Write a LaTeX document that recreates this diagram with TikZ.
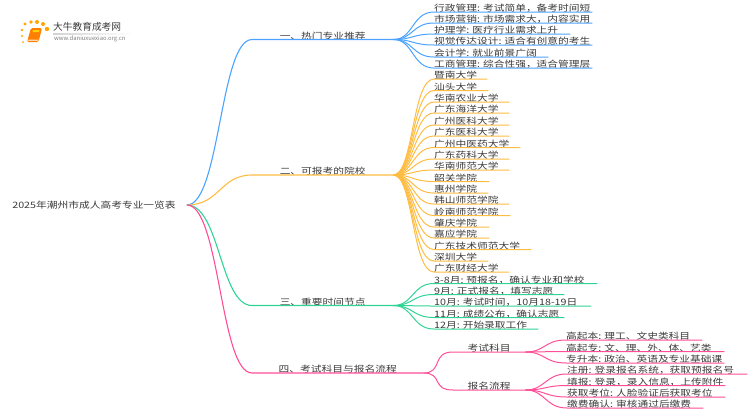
\documentclass[tikz,border=0pt]{standalone}
\usepackage{fontspec}
\setmainfont[FakeStretch=1.22]{Noto Sans CJK SC}
\newfontfamily\logofont{Noto Sans CJK SC}
\usetikzlibrary{positioning}
\definecolor{lblue}{HTML}{4BA3FF}
\definecolor{lorange}{HTML}{FFBC42}
\definecolor{lgreen}{HTML}{2FD495}
\definecolor{lpink}{HTML}{FF4E97}
\definecolor{ltext}{HTML}{3A3A3A}
\tikzset{
  arm/.style={inner xsep=0pt, inner ysep=0pt, anchor=south west, text=ltext, font=\fontsize{8.8}{11}\selectfont, text height=7pt, text depth=0pt},
  leaf/.style={arm, text width=#1, align=left},
  trunk/.style={line width=1.1pt, to path={.. controls +(33,0) and +(-32,0) .. (\tikztotarget)}},
  twig/.style={line width=1pt, to path={.. controls +(20,0) and +(-22,0) .. (\tikztotarget)}},
}
\begin{document}
\begin{tikzpicture}[x=1pt, y=-1pt]
\useasboundingbox (0,0) rectangle (750,410);
% logo
\fill[orange!70!yellow] (23,42) circle (1pt);
\fill[orange!70!yellow] (22,36) circle (1.2pt);
\fill[orange!70!yellow] (22,30) circle (1.4pt);
\fill[orange!70!yellow] (25,24) circle (1.6pt);
\fill[orange!70!yellow] (31,22) circle (1.9pt);
\fill[orange!70!yellow] (37,22) circle (2pt);
\fill[orange!70!yellow] (43,24) circle (2pt);
\fill[orange!70!yellow] (47,29) circle (2.2pt);
\fill[orange, rounded corners=1.5pt] (31,28) -- (42,28) -- (38.5,42) -- (27,42) -- cycle;
\fill[yellow!70!orange] (33,30) -- (39.5,30) -- (39,32) -- (32.5,32) -- cycle;
\fill[orange!30] (28.5,39.5) -- (38.5,39.5) -- (38.2,40.8) -- (28.2,40.8) -- cycle;
\fill[left color=gray!35, right color=white] (53,33) rectangle (133,34);
\node[inner sep=0pt, anchor=west, text=ltext, font=\logofont\fontsize{9.7}{11}\selectfont] (brand) at (53,27) {大牛教育成考网};
\node[inner sep=0pt, anchor=west, text=gray, font=\logofont\fontsize{5.9}{7}\selectfont] (site) at (54,38.5) {www.daniuxuexiao.org.cn};
% root and main branches
\node[arm, anchor=center, inner xsep=11pt] (root) at (94,205) {2025年潮州市成人高考专业一览表};
\node[arm, minimum width=141pt] (one) at (252,39.5) {一、热门专业推荐};
\node[arm, minimum width=141pt] (two) at (252,175) {二、可报考的院校};
\node[arm, minimum width=141pt] (three) at (252,305.5) {三、重要时间节点};
\node[arm, minimum width=171pt] (four) at (252,373) {四、考试科目与报名流程};
\node[arm, minimum width=72pt] (exam) at (453,352) {考试科目};
\node[arm, minimum width=72pt] (apply) at (453,390) {报名流程};
\draw[lblue, trunk] (root.east) to (one.south west) -- (one.south east);
\draw[lorange, trunk] (root.east) to (two.south west) -- (two.south east);
\draw[lgreen, trunk] (root.east) to (three.south west) -- (three.south east);
\draw[lpink, trunk] (root.east) to (four.south west) -- (four.south east);
\draw[lpink, twig] (four.south east) to (exam.south west) -- (exam.south east);
\draw[lpink, twig] (four.south east) to (apply.south west) -- (apply.south east);
% first group
\node[leaf=158pt] (o1) at (434,12) {行政管理:~考试简单，备考时间短};
\node[leaf=158pt] (o2) at (434,23) {市场营销:~市场需求大，内容实用};
\node[leaf=136pt] (o3) at (434,34) {护理学:~医疗行业需求上升};
\node[leaf=158pt] (o4) at (434,45) {视觉传达设计:~适合有创意的考生};
\node[leaf=114pt] (o5) at (434,57) {会计学:~就业前景广阔};
\node[leaf=158pt] (o6) at (434,68) {工商管理:~综合性强，适合管理层};
\draw[lblue, twig] (one.south east) to (o1.south west) -- (o1.south east);
\draw[lblue, twig] (one.south east) to (o2.south west) -- (o2.south east);
\draw[lblue, twig] (one.south east) to (o3.south west) -- (o3.south east);
\draw[lblue, twig] (one.south east) to (o4.south west) -- (o4.south east);
\draw[lblue, twig] (one.south east) to (o5.south west) -- (o5.south east);
\draw[lblue, twig] (one.south east) to (o6.south west) -- (o6.south east);
% second group
\node[leaf=53pt] (s1) at (434,79) {暨南大学};
\node[leaf=54pt] (s2) at (434,90.5) {汕头大学};
\node[leaf=75pt] (s3) at (434,102) {华南农业大学};
\node[leaf=75pt] (s4) at (434,113) {广东海洋大学};
\node[leaf=75pt] (s5) at (434,125) {广州医科大学};
\node[leaf=75pt] (s6) at (434,136) {广东医科大学};
\node[leaf=86pt] (s7) at (434,147.5) {广州中医药大学};
\node[leaf=75pt] (s8) at (434,159) {广东药科大学};
\node[leaf=75pt] (s9) at (434,170) {华南师范大学};
\node[leaf=55pt] (s10) at (434,181.5) {韶关学院};
\node[leaf=54pt] (s11) at (434,193) {惠州学院};
\node[leaf=75pt] (s12) at (434,204) {韩山师范学院};
\node[leaf=76pt] (s13) at (434,215.5) {岭南师范学院};
\node[leaf=55pt] (s14) at (434,227) {肇庆学院};
\node[leaf=55pt] (s15) at (434,238) {嘉应学院};
\node[leaf=97pt] (s16) at (434,249.5) {广东技术师范大学};
\node[leaf=54pt] (s17) at (434,261) {深圳大学};
\node[leaf=75pt] (s18) at (434,272) {广东财经大学};
\draw[lorange, twig] (two.south east) to (s1.south west) -- (s1.south east);
\draw[lorange, twig] (two.south east) to (s2.south west) -- (s2.south east);
\draw[lorange, twig] (two.south east) to (s3.south west) -- (s3.south east);
\draw[lorange, twig] (two.south east) to (s4.south west) -- (s4.south east);
\draw[lorange, twig] (two.south east) to (s5.south west) -- (s5.south east);
\draw[lorange, twig] (two.south east) to (s6.south west) -- (s6.south east);
\draw[lorange, twig] (two.south east) to (s7.south west) -- (s7.south east);
\draw[lorange, twig] (two.south east) to (s8.south west) -- (s8.south east);
\draw[lorange, twig] (two.south east) to (s9.south west) -- (s9.south east);
\draw[lorange, twig] (two.south east) to (s10.south west) -- (s10.south east);
\draw[lorange, twig] (two.south east) to (s11.south west) -- (s11.south east);
\draw[lorange, twig] (two.south east) to (s12.south west) -- (s12.south east);
\draw[lorange, twig] (two.south east) to (s13.south west) -- (s13.south east);
\draw[lorange, twig] (two.south east) to (s14.south west) -- (s14.south east);
\draw[lorange, twig] (two.south east) to (s15.south west) -- (s15.south east);
\draw[lorange, twig] (two.south east) to (s16.south west) -- (s16.south east);
\draw[lorange, twig] (two.south east) to (s17.south west) -- (s17.south east);
\draw[lorange, twig] (two.south east) to (s18.south west) -- (s18.south east);
% third group
\node[leaf=163pt] (d1) at (434,283.5) {3-8月:~预报名，确认专业和学校};
\node[leaf=130pt] (d2) at (434,294.5) {9月:~正式报名，填写志愿};
\node[leaf=157pt] (d3) at (434,306) {10月:~考试时间，10月18-19日};
\node[leaf=130pt] (d4) at (434,317.5) {11月:~成绩公布，确认志愿};
\node[leaf=104pt] (d5) at (434,329) {12月:~开始录取工作};
\draw[lgreen, twig] (three.south east) to (d1.south west) -- (d1.south east);
\draw[lgreen, twig] (three.south east) to (d2.south west) -- (d2.south east);
\draw[lgreen, twig] (three.south east) to (d3.south west) -- (d3.south east);
\draw[lgreen, twig] (three.south east) to (d4.south west) -- (d4.south east);
\draw[lgreen, twig] (three.south east) to (d5.south west) -- (d5.south east);
% fourth group
\node[leaf=136pt] (e1) at (566,340) {高起本:~理工、文史类科目};
\node[leaf=158pt] (e2) at (566,351.5) {高起专:~文、理、外、体、艺类};
\node[leaf=158pt] (e3) at (566,363) {专升本:~政治、英语及专业基础课};
\node[leaf=180pt] (a1) at (567,374) {注册:~登录报名系统，获取预报名号};
\node[leaf=158pt] (a2) at (567,385.5) {填报:~登录，录入信息，上传附件};
\node[leaf=158pt] (a3) at (567,397) {获取考位:~人脸验证后获取考位};
\node[leaf=136pt] (a4) at (567,408) {缴费确认:~审核通过后缴费};
\draw[lpink, twig] (exam.south east) to (e1.south west) -- (e1.south east);
\draw[lpink, twig] (exam.south east) to (e2.south west) -- (e2.south east);
\draw[lpink, twig] (exam.south east) to (e3.south west) -- (e3.south east);
\draw[lpink, twig] (apply.south east) to (a1.south west) -- (a1.south east);
\draw[lpink, twig] (apply.south east) to (a2.south west) -- (a2.south east);
\draw[lpink, twig] (apply.south east) to (a3.south west) -- (a3.south east);
\draw[lpink, twig] (apply.south east) to (a4.south west) -- (a4.south east);
\end{tikzpicture}
\end{document}
